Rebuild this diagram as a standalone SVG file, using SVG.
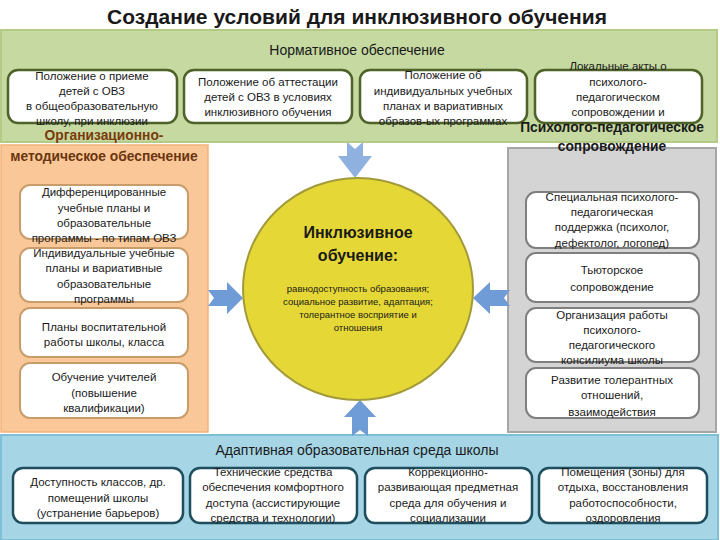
<svg xmlns="http://www.w3.org/2000/svg" width="720" height="540" viewBox="0 0 720 540">
<defs>
<style>
text{font-family:"Liberation Sans",Arial,sans-serif;text-anchor:middle;fill:#1a1a1a}
.t{font-size:11.5px}
.h{font-size:14px}
.hb{font-size:13.8px;font-weight:bold}
.title{font-size:21px;font-weight:bold}
.gb{fill:#fff;stroke:#4f6228;stroke-width:2.5}
.ob{fill:#fff;stroke:#c99c6c;stroke-width:2}
.sb{fill:#fff;stroke:#7f7f7f;stroke-width:2}
.bb{fill:#fff;stroke:#1f4e5e;stroke-width:2.5}
.arr{fill:#6f9bd6}
</style>
</defs>
<rect width="720" height="540" fill="#fff"/>
<text class="title" x="357" y="24">Создание условий для инклюзивного обучения</text>

<g id="panel-normative">
<rect x="1" y="30" width="716" height="112" fill="#c5d9a1" stroke="#b3cb86" stroke-width="2"/>
<text class="h" x="357" y="55">Нормативное обеспечение</text>
</g>
<g id="panel-org">
<rect x="1" y="145" width="207" height="287" fill="#fac898" stroke="#f3b27a" stroke-width="1.5"/>
</g>
<g id="panel-psy">
<rect x="508" y="148" width="208" height="284" fill="#d4d4d4" stroke="#a6a6a6" stroke-width="2"/>
</g>
<g id="panel-adapt">
<rect x="1" y="435" width="717" height="105" fill="#a6d6e6" stroke="#7fc0d6" stroke-width="2"/>
<text class="h" x="357" y="455">Адаптивная образовательная среда школы</text>
</g>

<g id="n1"><rect class="gb" x="8" y="70" width="169" height="53" rx="10"/>
<text class="t" x="92" y="80">Положение о приеме</text>
<text class="t" x="92" y="95">детей с ОВЗ</text>
<text class="t" x="92" y="110">в общеобразовательную</text>
<text class="t" x="92" y="125">школу, при инклюзии</text></g>
<g id="n2"><rect class="gb" x="184" y="70" width="168" height="53" rx="10"/>
<text class="t" x="268" y="86">Положение об аттестации</text>
<text class="t" x="268" y="101">детей с ОВЗ в условиях</text>
<text class="t" x="268" y="116">инклюзивного обучения</text></g>
<g id="n3"><rect class="gb" x="360" y="70" width="167" height="53" rx="10"/>
<text class="t" x="443" y="79">Положение об</text>
<text class="t" x="443" y="95">индивидуальных учебных</text>
<text class="t" x="443" y="110">планах и вариативных</text>
<text class="t" x="443" y="125">образов-ых программах</text></g>
<g id="n4"><rect class="gb" x="535" y="70" width="167" height="53" rx="10"/>
<text class="t" x="618" y="70">Локальные акты о</text>
<text class="t" x="618" y="86">психолого-</text>
<text class="t" x="618" y="101">педагогическом</text>
<text class="t" x="618" y="116">сопровождении и</text></g>

<text class="hb" x="104" y="140" style="fill:#7a3b0a">Организационно-</text>
<text class="hb" x="104" y="161" style="fill:#6b3510">методическое обеспечение</text>
<text class="hb" x="612" y="132">Психолого-педагогическое</text>
<text class="hb" x="612" y="151">сопровождение</text>

<g id="o1"><rect class="ob" x="20" y="185" width="168" height="54" rx="10"/>
<text class="t" x="104" y="196">Дифференцированные</text>
<text class="t" x="104" y="212">учебные планы и</text>
<text class="t" x="104" y="227">образовательные</text>
<text class="t" x="104" y="242">программы - по типам ОВЗ</text></g>
<g id="o2"><rect class="ob" x="20" y="248" width="168" height="54" rx="10"/>
<text class="t" x="104" y="257">Индивидуальные учебные</text>
<text class="t" x="104" y="272">планы и вариативные</text>
<text class="t" x="104" y="288">образовательные</text>
<text class="t" x="104" y="303">программы</text></g>
<g id="o3"><rect class="ob" x="20" y="308" width="168" height="49" rx="10"/>
<text class="t" x="104" y="331">Планы воспитательной</text>
<text class="t" x="104" y="346">работы школы, класса</text></g>
<g id="o4"><rect class="ob" x="20" y="363" width="168" height="55" rx="10"/>
<text class="t" x="104" y="381">Обучение учителей</text>
<text class="t" x="104" y="397">(повышение</text>
<text class="t" x="104" y="412">квалификации)</text></g>

<g id="p1"><rect class="sb" x="526" y="192" width="173" height="56" rx="10"/>
<text class="t" x="612" y="201">Специальная психолого-</text>
<text class="t" x="612" y="216">педагогическая</text>
<text class="t" x="612" y="231">поддержка (психолог,</text>
<text class="t" x="612" y="247">дефектолог, логопед)</text></g>
<g id="p2"><rect class="sb" x="526" y="253" width="173" height="49" rx="10"/>
<text class="t" x="612" y="274">Тьюторское</text>
<text class="t" x="612" y="291">сопровождение</text></g>
<g id="p3"><rect class="sb" x="526" y="308" width="173" height="54" rx="10"/>
<text class="t" x="612" y="319">Организация работы</text>
<text class="t" x="612" y="334">психолого-</text>
<text class="t" x="612" y="349">педагогического</text>
<text class="t" x="612" y="364">консилиума школы</text></g>
<g id="p4"><rect class="sb" x="526" y="368" width="173" height="50" rx="10"/>
<text class="t" x="612" y="384">Развитие толерантных</text>
<text class="t" x="612" y="399">отношений,</text>
<text class="t" x="612" y="416">взаимодействия</text></g>

<g id="b1"><rect class="bb" x="13" y="468" width="170" height="55" rx="10"/>
<text class="t" x="98" y="486">Доступность классов, др.</text>
<text class="t" x="98" y="502">помещений школы</text>
<text class="t" x="98" y="517">(устранение барьеров)</text></g>
<g id="b2"><rect class="bb" x="190" y="468" width="167" height="55" rx="10"/>
<text class="t" x="273" y="476">Технические средства</text>
<text class="t" x="273" y="491">обеспечения комфортного</text>
<text class="t" x="273" y="507">доступа (ассистирующие</text>
<text class="t" x="273" y="522">средства и технологии)</text></g>
<g id="b3"><rect class="bb" x="365" y="468" width="167" height="55" rx="10"/>
<text class="t" x="448" y="476">Коррекционно-</text>
<text class="t" x="448" y="491">развивающая предметная</text>
<text class="t" x="448" y="507">среда для обучения и</text>
<text class="t" x="448" y="522">социализации</text></g>
<g id="b4"><rect class="bb" x="539" y="468" width="168" height="55" rx="10"/>
<text class="t" x="623" y="476">Помещения (зоны) для</text>
<text class="t" x="623" y="491">отдыха, восстановления</text>
<text class="t" x="623" y="507">работоспособности,</text>
<text class="t" x="623" y="522">оздоровления</text></g>

<g id="connectors">
<polygon class="arr" style="fill:#8eb1df" points="347,142 355,149 363,142 363,156 372,156 355,178 338,156 347,156"/>
<polygon class="arr" points="208,290 227,290 227,282 243,298 227,314 227,306 208,306 214,298"/>
<polygon class="arr" points="510,290 490,290 490,282 473,298 490,314 490,306 510,306 504,298"/>
<polygon class="arr" points="352,436 352,417 344,417 360,400 376,417 368,417 368,436 360,430"/>
</g>

<g id="center">
<ellipse cx="358" cy="289" rx="115" ry="111" fill="#e5d735" stroke="#a39b3a" stroke-width="2"/>
<text x="358" y="238" style="font-size:16px;font-weight:bold">Инклюзивное</text>
<text x="358" y="261" style="font-size:16px;font-weight:bold">обучение:</text>
<text x="358" y="292" style="font-size:9.5px">равнодоступность образования;</text>
<text x="358" y="305" style="font-size:9.5px">социальное развитие, адаптация;</text>
<text x="358" y="318" style="font-size:9.5px">толерантное восприятие и</text>
<text x="358" y="331" style="font-size:9.5px">отношения</text>
</g>
</svg>
